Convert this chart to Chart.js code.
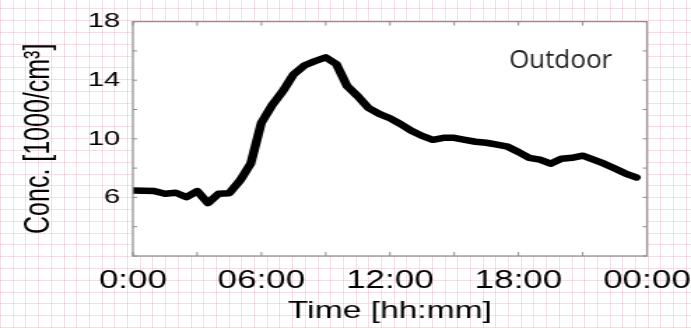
<!DOCTYPE html>
<html>
<head>
<meta charset="utf-8">
<script src="https://cdn.jsdelivr.net/npm/chart.js@4/dist/chart.umd.min.js"></script>
<style>
  html, body { margin: 0; padding: 0; overflow: hidden; }
  body {
    width: 691px; height: 328px;
    background-color: #fff;
    background-image:
      repeating-linear-gradient(90deg, rgba(228,170,182,0.38) 0 1px, transparent 1px 12.7px),
      repeating-linear-gradient(0deg, rgba(228,170,182,0.38) 0 1px, transparent 1px 11.8px);
  }
  /* the original picture is stretched sideways, so the chart is too */
  #wrap { position: absolute; left: 0; top: 0; width: 494px; height: 328px;
          transform: scaleX(1.3988); transform-origin: 0 0; }
</style>
</head>
<body>
<div id="wrap"><canvas id="myChart" width="494" height="328"></canvas></div>
<script>
// time of day in hours, one reading every half hour
const hours = [0, 0.5, 1, 1.5, 2, 2.5, 3, 3.5, 4, 4.5, 5, 5.5,
  6, 6.5, 7, 7.5, 8, 8.5, 9, 9.5, 10, 10.5, 11, 11.5,
  12, 12.5, 13, 13.5, 14, 14.5, 15, 15.5, 16, 16.5, 17, 17.5,
  18, 18.5, 19, 19.5, 20, 20.5, 21, 21.5, 22, 22.5, 23, 23.5];
// outdoor concentration [1000/cm3]
const conc = [6.47, 6.45, 6.43, 6.25, 6.32, 6.02, 6.43, 5.61, 6.25, 6.29, 7.15, 8.3,
  11.1, 12.3, 13.25, 14.4, 15.0, 15.3, 15.56, 15.1, 13.6, 12.9, 12.1, 11.7,
  11.4, 11.0, 10.55, 10.2, 9.93, 10.07, 10.07, 9.93, 9.8, 9.73, 9.6, 9.46,
  9.1, 8.7, 8.58, 8.3, 8.64, 8.7, 8.85, 8.58, 8.3, 7.97, 7.63, 7.36];
const xTickLabels = ['0:00', '06:00', '12:00', '18:00', '00:00'];
const yTickLabels = ['6', '10', '14', '18'];

const SX = 1.3988;
const font = "'Liberation Sans', Arial, sans-serif";

const frame = {
  id: 'frame',
  beforeDraw(chart) {
    const {ctx, chartArea: a} = chart;
    ctx.save();
    ctx.fillStyle = '#fff';
    ctx.fillRect(a.left, a.top, a.right - a.left, a.bottom - a.top);
    ctx.restore();
  },
  afterDraw(chart) {
    const {ctx, chartArea: a, scales} = chart;
    ctx.save();
    ctx.strokeStyle = '#8c8c8c';
    ctx.lineWidth = 1.2;
    ctx.strokeRect(a.left, a.top, a.right - a.left, a.bottom - a.top);
    // inward ticks on all four sides
    ctx.lineWidth = 1;
    ctx.beginPath();
    scales.x.ticks.forEach(t => {
      const px = scales.x.getPixelForValue(t.value);
      ctx.moveTo(px, a.bottom); ctx.lineTo(px, a.bottom - 4);
      ctx.moveTo(px, a.top); ctx.lineTo(px, a.top + 4);
    });
    scales.y.ticks.forEach(t => {
      const py = scales.y.getPixelForValue(t.value);
      ctx.moveTo(a.left, py); ctx.lineTo(a.left + 3, py);
      ctx.moveTo(a.right, py); ctx.lineTo(a.right - 3, py);
    });
    ctx.stroke();
    // label inside the plot, drawn without the sideways stretch
    ctx.scale(1 / SX, 1);
    ctx.fillStyle = '#222';
    ctx.font = "26px 'Open Sans', sans-serif";
    ctx.textBaseline = 'alphabetic';
    ctx.fillText('Outdoor', 509, 68);
    ctx.restore();
  }
};

new Chart(document.getElementById('myChart'), {
  type: 'line',
  data: {
    datasets: [{
      data: hours.map((h, i) => ({x: h, y: conc[i]})),
      borderColor: '#000',
      borderWidth: 6.5,
      borderJoinStyle: 'round',
      borderCapStyle: 'round',
      pointRadius: 0,
      tension: 0,
      fill: false
    }]
  },
  options: {
    responsive: false,
    animation: false,
    layout: { padding: { left: 9, top: 20, right: 31.5, bottom: 0 } },
    plugins: { legend: { display: false }, tooltip: { enabled: false } },
    scales: {
      x: {
        type: 'linear', min: 0, max: 24,
        grid: { display: false, drawTicks: false },
        border: { display: false },
        afterFit(scale) {
          scale.height = 72;
          scale.paddingLeft = 0;
          scale.paddingRight = 0;
        },
        ticks: {
          stepSize: 3, autoSkip: false, maxRotation: 0, padding: 10,
          color: '#000', font: { family: font, size: 25 },
          callback: v => (v % 6 === 0 ? xTickLabels[v / 6] : '')
        },
        title: {
          display: true, text: 'Time [hh:mm]', color: '#000',
          font: { family: font, size: 24 }, padding: { top: 0, bottom: 2 }
        }
      },
      y: {
        min: 2, max: 18,
        grid: { display: false, drawTicks: false },
        border: { display: false },
        afterFit(scale) { scale.width = 86; },
        ticks: {
          stepSize: 2, autoSkip: false, padding: 9,
          color: '#000', font: { family: font, size: 21 },
          callback: v => (yTickLabels.includes(String(v)) ? String(v) : '')
        },
        title: {
          display: true, text: 'Conc. [1000/cm³]', color: '#000',
          font: { family: font, size: 25 }, padding: { top: 4, bottom: 0 }
        }
      }
    }
  },
  plugins: [frame]
});
</script>
</body>
</html>
